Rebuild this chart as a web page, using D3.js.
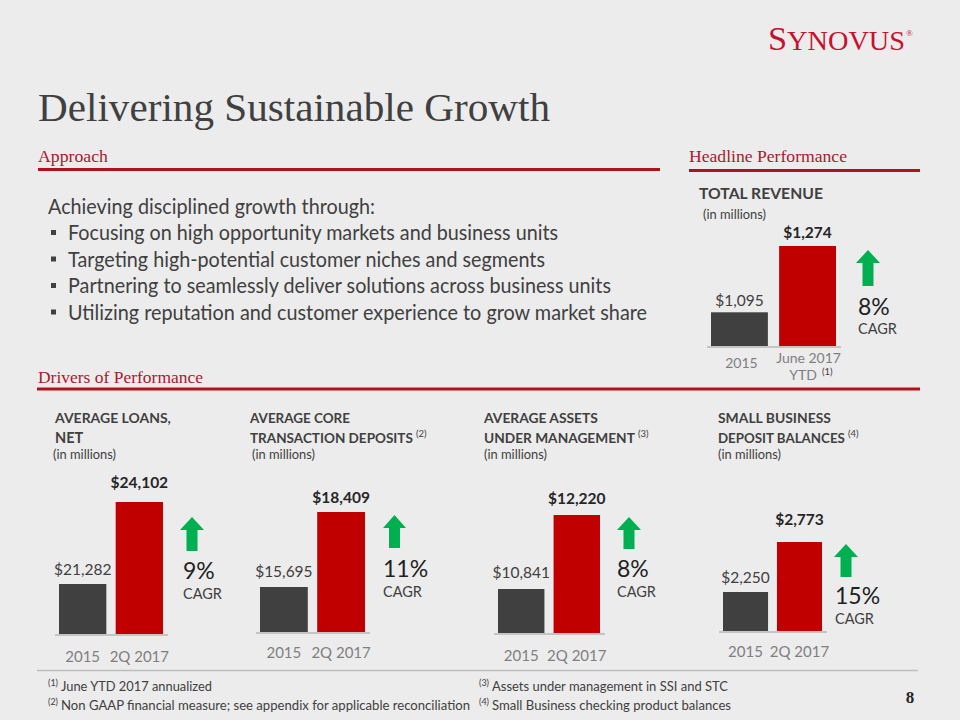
<!DOCTYPE html>
<html><head><meta charset="utf-8">
<script src="https://cdn.jsdelivr.net/npm/d3@7"></script>
<style>html,body{margin:0;padding:0;background:#ececec;}svg{display:block;}</style>
</head><body>
<svg id="c" width="960" height="720"></svg>
<script>
// ---------- data ----------
const periods = ["2015", "2Q 2017"];
const revenuePeriods = ["2015", "June 2017"];
const revenue = [1095, 1274];
const avgLoans = [21282, 24102];
const avgCoreDeposits = [15695, 18409];
const avgAUM = [10841, 12220];
const smallBizDeposits = [2250, 2773];
const cagrValues = ["8%", "9%", "11%", "8%", "15%"];
const chartTitles = [
  ["TOTAL REVENUE"],
  ["AVERAGE LOANS,", "NET"],
  ["AVERAGE CORE", "TRANSACTION DEPOSITS"],
  ["AVERAGE ASSETS", "UNDER MANAGEMENT"],
  ["SMALL BUSINESS", "DEPOSIT BALANCES"]
];
const titleNotes = [null, null, "(2)", "(3)", "(4)"];
const bullets = [
  "Focusing on high opportunity markets and business units",
  "Targeting high-potential customer niches and segments",
  "Partnering to seamlessly deliver solutions across business units",
  "Utilizing reputation and customer experience to grow market share"
];
const footnotes = [
  ["(1)", "June YTD 2017 annualized"],
  ["(2)", "Non GAAP financial measure; see appendix for applicable reconciliation"],
  ["(3)", "Assets under management in SSI and STC"],
  ["(4)", "Small Business checking product balances"]
];

// ---------- style ----------
const SANS = "Lato, 'Open Sans', sans-serif";
const SERIF = "'Liberation Serif', 'DejaVu Serif', serif";
const DARK = "#404040", RED_BAR = "#c00000", HEAD_RED = "#a8192e", LINE_RED = "#b01218", GREEN = "#00b050";

const svg = d3.select("#c");
svg.append("rect").attr("width", 960).attr("height", 720).attr("fill", "#ececec");

function txt(parent, str, x, y, o = {}) {
  const t = parent.append("text").attr("x", x).attr("y", y).text(str)
    .attr("font-family", o.family || SANS).attr("font-size", o.size || 14)
    .attr("font-weight", o.weight || 400).attr("fill", o.fill || DARK)
    .attr("text-anchor", o.anchor || "start");
  if (o.w) t.attr("textLength", o.w).attr("lengthAdjust", "spacingAndGlyphs");
  if (o.fit) {
    const len = t.node().getComputedTextLength();
    if (len > o.fit) t.attr("font-size", (o.size || 14) * o.fit / len);
  }
  return t;
}

// ---------- logo ----------
const logo = svg.append("text").attr("x", 768).attr("y", 50).attr("font-family", SERIF)
  .attr("fill", "#c8102e").attr("textLength", 137).attr("lengthAdjust", "spacingAndGlyphs");
logo.append("tspan").attr("font-size", 34).text("S");
logo.append("tspan").attr("font-size", 28).text("YNOVUS");
txt(svg, "®", 906, 36, {family: SERIF, size: 9, fill: "#c8102e"});

// ---------- title & section headers ----------
txt(svg, "Delivering Sustainable Growth", 38, 121, {family: SERIF, size: 40, w: 512});
txt(svg, "Approach", 38, 162, {family: SERIF, size: 17, fill: HEAD_RED, w: 70});
txt(svg, "Headline Performance", 689, 162, {family: SERIF, size: 17, fill: HEAD_RED, w: 158});
txt(svg, "Drivers of Performance", 38, 383, {family: SERIF, size: 17, fill: HEAD_RED, w: 165});
svg.append("line").attr("x1", 38).attr("x2", 660).attr("y1", 169.5).attr("y2", 169.5).attr("stroke", LINE_RED).attr("stroke-width", 3);
svg.append("line").attr("x1", 689).attr("x2", 920).attr("y1", 170.5).attr("y2", 170.5).attr("stroke", LINE_RED).attr("stroke-width", 3);
svg.append("line").attr("x1", 37).attr("x2", 920).attr("y1", 389).attr("y2", 389).attr("stroke", LINE_RED).attr("stroke-width", 3);

// ---------- approach text ----------
txt(svg, "Achieving disciplined growth through:", 48, 214, {size: 20.5, w: 327});
const bulletW = [490, 477, 543, 579];
bullets.forEach((b, i) => {
  const y = 240 + i * 26.5;
  svg.append("rect").attr("x", 51).attr("y", y - 10).attr("width", 5).attr("height", 5).attr("fill", DARK);
  txt(svg, b, 68, y, {size: 20.5, w: bulletW[i]});
});

// ---------- charts ----------
const fmt = d3.format("$,");
const chartCfg = [
  {vals: revenue, cats: revenuePeriods, xr: [711, 836], bottom: 346, top: 246, yMin: 1004, off: [6, 8], xlab: 368,
   tx: 699, ty: [199], tw: [124], mx: 703, my: 219, ar: [856, 880, 250, 286], px: 858, py: 315, cy: 334},
  {vals: avgLoans, cats: periods, xr: [59, 163], bottom: 634, top: 502, yMin: 19563, off: [9, 14], xlab: 662,
   tx: 55, ty: [423, 443], tw: [116, 29], mx: 53, my: 459, ar: [180, 204, 517, 551], px: 183, py: 579, cy: 599},
  {vals: avgCoreDeposits, cats: periods, xr: [260, 365], bottom: 632, top: 512, yMin: 14067, off: [10, 9], xlab: 658,
   tx: 250, ty: [423, 443], tw: [100, 163], mx: 252, my: 459, ar: [383, 406, 515, 548], px: 383, py: 577, cy: 597},
  {vals: avgAUM, cats: periods, xr: [498, 600], bottom: 633, top: 515, yMin: 10021, off: [11, 11], xlab: 661,
   tx: 484, ty: [423, 443], tw: [114, 151], mx: 484, my: 459, ar: [617, 641, 517, 549], px: 617, py: 577, cy: 597},
  {vals: smallBizDeposits, cats: periods, xr: [723, 822], bottom: 631, top: 542, yMin: 1842, off: [9, 17], xlab: 657,
   tx: 718, ty: [423, 443], tw: [113, 127], mx: 718, my: 459, ar: [834, 858, 544, 577], px: 835, py: 604, cy: 624}
];

chartCfg.forEach((c, ci) => {
  const g = svg.append("g");
  const x = d3.scaleBand().domain(c.cats).range(c.xr).paddingInner(0.165).paddingOuter(0);
  const y = d3.scaleLinear().domain([c.yMin, d3.max(c.vals)]).range([c.bottom, c.top]);

  // titles
  chartTitles[ci].forEach((t, k) => {
    txt(g, t, c.tx, c.ty[k], {size: ci === 0 ? 17 : 14.5, weight: 700, fit: c.tw[k]});
  });
  if (titleNotes[ci]) {
    const lastX = c.tx + c.tw[c.tw.length - 1] + 3;
    txt(g, titleNotes[ci], lastX, c.ty[c.ty.length - 1] - 6, {size: 9.5, fit: 13});
  }
  txt(g, "(in millions)", c.mx, c.my, {size: 13, w: 63});

  // bars
  g.selectAll("rect.bar").data(c.vals).join("rect").attr("class", "bar")
    .attr("x", (d, i) => x(c.cats[i])).attr("width", x.bandwidth())
    .attr("y", d => y(d)).attr("height", d => c.bottom - y(d))
    .attr("fill", (d, i) => i === 0 ? DARK : RED_BAR);

  // baseline
  g.append("line").attr("x1", c.xr[0] - 4).attr("x2", c.xr[1] + 5)
    .attr("y1", c.bottom + 1).attr("y2", c.bottom + 1).attr("stroke", "#c4c4c4").attr("stroke-width", 2);

  // value labels
  c.vals.forEach((v, i) => {
    txt(g, fmt(v), x(c.cats[i]) + x.bandwidth() / 2, y(v) - c.off[i],
      {size: 15.5, weight: i === 1 ? 700 : 400, fill: i === 1 ? "#262626" : DARK, anchor: "middle"});
  });

  // category labels
  if (ci === 0) {
    txt(g, c.cats[0], x(c.cats[0]) + x.bandwidth() / 2 + 2, c.xlab, {size: 14, fill: "#7f7f7f", anchor: "middle"});
    txt(g, c.cats[1], x(c.cats[1]) + x.bandwidth() / 2 + 1, c.xlab - 5, {size: 14, fill: "#7f7f7f", anchor: "middle"});
    txt(g, "YTD", 817, c.xlab + 12, {size: 14, fill: "#7f7f7f", anchor: "end"});
    txt(g, "(1)", 822, c.xlab + 7, {size: 9.5, fill: "#404040"});
  } else {
    c.cats.forEach((k, i) => {
      txt(g, k, x(k) + x.bandwidth() / 2, c.xlab, {size: 15, fill: "#7f7f7f", anchor: "middle"});
    });
  }

  // arrow
  const [ax0, ax1, ay0, ay1] = c.ar, am = (ax0 + ax1) / 2, hh = 13, sw = 5.5;
  g.append("path").attr("fill", GREEN).attr("d",
    `M${am},${ay0} L${ax1},${ay0 + hh} L${am + sw},${ay0 + hh} L${am + sw},${ay1} L${am - sw},${ay1} L${am - sw},${ay0 + hh} L${ax0},${ay0 + hh} Z`);

  txt(g, cagrValues[ci], c.px, c.py, {size: 23, fill: "#1f1f1f"});
  txt(g, "CAGR", c.px, c.cy, {size: 14.5});
});

// ---------- footer ----------
svg.append("line").attr("x1", 37).attr("x2", 918).attr("y1", 670.5).attr("y2", 670.5).attr("stroke", "#bdbdbd").attr("stroke-width", 1.5);
const fnPos = [[48, 691, 151], [48, 710, 409], [479, 691, 236], [479, 710, 239]];
footnotes.forEach((f, i) => {
  const [fx, fy, fw] = fnPos[i];
  txt(svg, f[0], fx, fy - 5, {size: 9});
  txt(svg, f[1], fx + 13, fy, {size: 13, w: fw});
});
txt(svg, "8", 910, 703, {family: SERIF, size: 17, weight: 700, fill: "#262626", anchor: "middle"});
</script>
</body></html>
